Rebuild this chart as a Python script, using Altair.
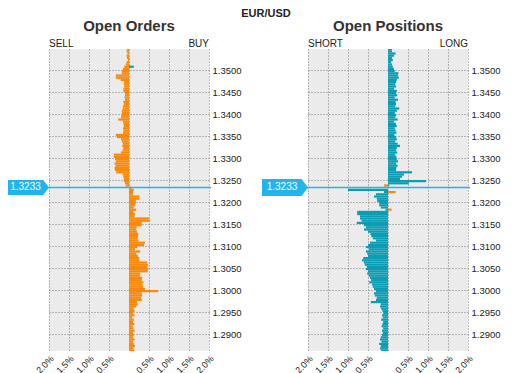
import altair as alt
import pandas as pd

# ---------------- data ----------------
pair = "EUR/USD"
current_price = 1.3233
bin_size = 0.0005
top_bin = 1.3545
n_bins = 138
price_bins = [round(top_bin - i * bin_size, 4) for i in range(n_bins)]  # top -> bottom

# Open orders (% of total), negative = SELL side (left), positive = BUY side (right)
orders_main = [
    -0.05, -0.06, -0.04, -0.06, -0.05, -0.03, -0.06, -0.08, -0.12, -0.15,
    -0.18, -0.18, -0.33, -0.33, -0.21, -0.12, -0.13, -0.12, -0.14, -0.14,
    -0.10, -0.10, -0.11, -0.10, -0.14, -0.13, -0.15, -0.16, -0.18, -0.18,
    -0.19, -0.20, -0.27, -0.15, -0.14, -0.13, -0.15, -0.14, -0.15, -0.33,
    -0.30, -0.20, -0.18, -0.15, -0.17, -0.14, -0.16, -0.20, -0.38, -0.38,
    -0.35, -0.33, -0.36, -0.34, -0.36, -0.35, -0.32, -0.16, -0.14, -0.13,
    -0.13, -0.10, -0.08, 0.06, 0.12, 0.10, 0.10, 0.26, 0.26, 0.17,
    0.17, 0.15, 0.12, 0.18, 0.11, 0.15, 0.14, 0.50, 0.52, 0.32,
    0.32, 0.19, 0.18, 0.20, 0.23, 0.23, 0.22, 0.24, 0.40, 0.38,
    0.20, 0.15, 0.28, 0.18, 0.22, 0.26, 0.26, 0.45, 0.48, 0.46,
    0.48, 0.47, 0.28, 0.27, 0.33, 0.32, 0.36, 0.34, 0.35, 0.40,
    0.73, 0.32, 0.33, 0.30, 0.32, 0.20, 0.22, 0.18, 0.12, 0.14,
    0.10, 0.14, 0.08, 0.12, 0.10, 0.13, 0.09, 0.11, 0.14, 0.10,
    0.12, 0.10, 0.14, 0.10, 0.12, 0.15, 0.11, 0.13,
]
orders_extra_prices = [1.3505]
orders_extra_values = [0.12]

# Open positions (% of total), negative = SHORT (left), positive = LONG (right)
positions_main = [
    0.10, 0.10, 0.19, 0.15, 0.10, 0.12, 0.08, 0.10, 0.12, 0.15,
    0.17, 0.26, 0.25, 0.27, 0.22, 0.20, 0.18, 0.20, 0.15, 0.22,
    0.20, 0.23, 0.17, 0.25, 0.19, 0.20, 0.18, 0.28, 0.22, 0.17,
    0.20, 0.18, 0.24, 0.15, 0.20, 0.22, 0.17, 0.19, 0.21, 0.16,
    0.20, 0.22, 0.18, 0.24, 0.30, 0.22, 0.20, 0.23, 0.18, 0.21,
    0.22, 0.25, 0.20, 0.24, 0.21, 0.20, 0.60, 0.40, 0.35, 0.30,
    0.95, 0.52, 0.03, 0.00, -1.00, -0.10, -0.30, -0.35, -0.28, -0.27,
    -0.22, -0.22, -0.18, -0.06, -0.77, -0.77, -0.70, -0.70, -0.66, -0.78,
    -0.60, -0.55, -0.60, -0.50, -0.44, -0.42, -0.38, -0.30, -0.45, -0.50,
    -0.55, -0.48, -0.55, -0.52, -0.50, -0.62, -0.65, -0.60, -0.58, -0.53,
    -0.55, -0.50, -0.52, -0.48, -0.45, -0.42, -0.47, -0.40, -0.38, -0.35,
    -0.30, -0.35, -0.33, -0.28, -0.30, -0.43, -0.18, -0.20, -0.17, -0.14,
    -0.12, -0.15, -0.13, -0.17, -0.12, -0.14, -0.16, -0.12, -0.15, -0.13,
    -0.15, -0.18, -0.20, -0.16, -0.22, -0.18, -0.20, -0.17,
]
positions_extra_prices = [1.3235, 1.3220, 1.3180]
positions_extra_values = [-0.10, 0.19, 0.09]

x_ticks = [-2.0, -1.5, -1.0, -0.5, 0.0, 0.5, 1.0, 1.5, 2.0]
y_ticks = [1.2900, 1.2950, 1.3000, 1.3050, 1.3100, 1.3150, 1.3200,
           1.3250, 1.3300, 1.3350, 1.3400, 1.3450, 1.3500]

ORANGE = "#F7890C"
TEAL = "#0A9DB4"
PRICE_BLUE = "#22B4EC"
FONT = "Liberation Sans"

PLOT_H = 302
PX_PER_UNIT = 4400.0
Y_TOP = 1.35 + 21 / PX_PER_UNIT
Y_DOMAIN = [Y_TOP - PLOT_H / PX_PER_UNIT, Y_TOP]
X_DOMAIN = [-2, 2]


def make_df(prices, values, color_name):
    return pd.DataFrame({
        "lo": prices,
        "hi": [round(p + bin_size, 4) for p in prices],
        "v": values,
        "series": color_name,
    })


def y_axis():
    return alt.Axis(
        orient="right", values=y_ticks, format=".4f", title=None, grid=True,
        ticks=False, domain=False, labelFontSize=9.5, labelPadding=3,
        labelColor="#222", labelOverlap=False, labelFlush=False,
    )


def panel(main_vals, main_color, extra_prices, extra_vals, extra_color,
          title, left_lbl, right_lbl, box_w):
    df = pd.concat([
        make_df(price_bins, main_vals, main_color),
        make_df(extra_prices, extra_vals, extra_color),
    ], ignore_index=True)

    x_axis = alt.Axis(
        values=x_ticks, title=None, grid=True, ticks=False, domain=False,
        labelAngle=-45, labelFontSize=9, labelPadding=3, labelColor="#222",
        labelOverlap=False, labelFlush=False,
        labelExpr="datum.value == 0 ? '' : format(abs(datum.value), '.1f') + '%'",
    )
    yscale = alt.Scale(domain=Y_DOMAIN, nice=False, zero=False)
    xscale = alt.Scale(domain=X_DOMAIN, nice=False, zero=False)
    bars = alt.Chart(df).mark_rect(clip=True).encode(
        x=alt.X("v:Q", scale=xscale, axis=x_axis),
        x2=alt.datum(0),
        y=alt.Y("lo:Q", scale=yscale, axis=y_axis()),
        y2="hi:Q",
        color=alt.Color("series:N", scale=alt.Scale(domain=["orange", "teal"],
                                                    range=[ORANGE, TEAL]),
                        legend=None),
    )
    price_df = pd.DataFrame({"price": [current_price], "label": [f"{current_price:.4f}"]})
    rule = alt.Chart(price_df).mark_rule(
        color=PRICE_BLUE, stroke=PRICE_BLUE, strokeWidth=1.5, strokeOpacity=1, opacity=1,
    ).encode(y=alt.Y("price:Q", scale=yscale, axis=y_axis()),
             x=alt.value(-2), x2=alt.value(162))
    half = box_w / 2.0
    box = alt.Chart(price_df).mark_point(
        shape="M-1,-0.37 L0.72,-0.37 L1,0 L0.72,0.37 L-1,0.37 Z",
        size=box_w * box_w, filled=True, fill=PRICE_BLUE, opacity=1, strokeWidth=0,
    ).encode(y=alt.Y("price:Q", scale=yscale, axis=y_axis()), x=alt.value(-half))
    box_text = alt.Chart(price_df).mark_text(
        color="white", fontSize=10, font=FONT, align="center", baseline="middle",
    ).encode(y=alt.Y("price:Q", scale=yscale, axis=y_axis()), x=alt.value(-half - 3),
             text="label:N")

    side_df = pd.DataFrame({"a": [0]})
    left_t = alt.Chart(side_df).mark_text(
        text=left_lbl, align="left", baseline="alphabetic", fontSize=10, font=FONT,
        color="#222").encode(x=alt.value(0), y=alt.value(-2))
    right_t = alt.Chart(side_df).mark_text(
        text=right_lbl, align="right", baseline="alphabetic", fontSize=10, font=FONT,
        color="#222").encode(x=alt.value(160), y=alt.value(-2))

    return alt.layer(bars, rule, box, box_text, left_t, right_t).properties(
        width=160, height=PLOT_H,
        title=alt.TitleParams(title, fontSize=15, fontWeight="bold", font=FONT,
                              color="#333", offset=5, anchor="middle", frame="group"),
    )


left = panel(orders_main, "orange", orders_extra_prices, orders_extra_values, "teal",
             "Open Orders", "SELL", "BUY", 41)
right = panel(positions_main, "teal", positions_extra_prices, positions_extra_values, "orange",
              "Open Positions", "SHORT", "LONG", 46)

chart = alt.hconcat(left, right, spacing=20).properties(
    title=alt.TitleParams(pair, fontSize=11, fontWeight="bold", font=FONT,
                          color="#222", anchor="middle", dx=12, offset=0),
    padding=0,
).configure_view(fill="#EBEBEB", stroke=None).configure_axis(
    gridColor="#7a7a7a", gridDash=[1, 2], gridWidth=1, labelFont=FONT,
)

chart.save("out.html", embed_options={"renderer": "svg", "actions": False})
